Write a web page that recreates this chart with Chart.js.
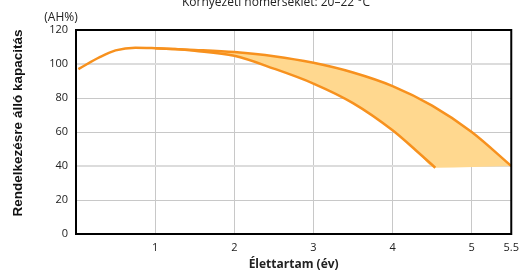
<!DOCTYPE html>
<html>
<head>
<meta charset="utf-8">
<script src="https://cdn.jsdelivr.net/npm/chart.js@4/dist/chart.umd.min.js"></script>
<style>
  html, body { margin: 0; padding: 0; background: #fff; }
  #wrap { position: relative; width: 526px; height: 276px; overflow: hidden; }
</style>
</head>
<body>
<div id="wrap"><canvas id="chart" width="526" height="276"></canvas></div>
<script>
// Felső görbe (x: év, y: AH%)
const felsoX = [0.03, 0.3, 0.5, 0.75, 1.0, 1.5, 2.0, 2.5, 3.0, 3.5, 4.0, 4.5, 5.0, 5.5];
const felsoY = [97, 104, 108, 109.6, 109.3, 108.3, 107, 104.6, 100.7, 95, 87, 75.5, 60, 40];

// Alsó görbe
const alsoX = [1.0, 1.25, 1.5, 2.0, 2.5, 3.0, 3.5, 4.0, 4.3, 4.54];
const alsoY = [109.3, 108.8, 107.8, 104.8, 97.3, 88.5, 77, 61, 49, 39];

// a kitöltés alsó határa 40%-on folytatódik
const hatarY = 40;

const xTicks = [1, 2, 3, 4, 5, 5.5];
const yTicks = [0, 20, 40, 60, 80, 100, 120];

const cim = 'Környezeti hőmérséklet: 20–22 °C';
const egyseg = '(AH%)';
const yCim = 'Rendelkezésre álló kapacitás';

const narancs = '#F7911E';
const kitoltes = '#FFD88F';

function pontok(xs, ys) {
    return xs.map((x, i) => ({ x: x, y: ys[i] }));
}

const hatar = pontok(alsoX, alsoY);
hatar.push({ x: felsoX[felsoX.length - 1], y: hatarY });

// Keret és feliratok
const keretPlugin = {
    id: 'keret',
    afterDraw(chart) {
        const ctx = chart.ctx;
        const a = chart.chartArea;
        ctx.save();
        ctx.strokeStyle = '#000';
        ctx.lineWidth = 2;
        ctx.strokeRect(a.left, a.top, a.right - a.left, a.bottom - a.top);
        ctx.fillStyle = '#222';
        ctx.font = '12px "Open Sans"';
        ctx.textAlign = 'center';
        ctx.textBaseline = 'alphabetic';
        ctx.fillText(cim, 276, 6);
        ctx.fillText(egyseg, 61, 21);
        // függőleges tengelycím
        ctx.translate(18, 123);
        ctx.rotate(-Math.PI / 2);
        ctx.fillStyle = '#111';
        ctx.font = 'bold 13.5px "Liberation Sans"';
        ctx.textBaseline = 'middle';
        ctx.fillText(yCim, 0, 0);
        ctx.restore();
    }
};

new Chart(document.getElementById('chart'), {
    type: 'line',
    data: {
        datasets: [
            {
                // láthatatlan alsó határ a kitöltéshez
                data: hatar,
                borderWidth: 0,
                borderColor: 'rgba(0,0,0,0)',
                pointRadius: 0,
                fill: false,
                cubicInterpolationMode: 'monotone'
            },
            {
                data: pontok(felsoX, felsoY),
                borderColor: narancs,
                borderWidth: 2.5,
                pointRadius: 0,
                backgroundColor: kitoltes,
                fill: 0,
                cubicInterpolationMode: 'monotone'
            },
            {
                data: pontok(alsoX, alsoY),
                borderColor: narancs,
                borderWidth: 2.5,
                pointRadius: 0,
                fill: false,
                cubicInterpolationMode: 'monotone'
            }
        ]
    },
    options: {
        responsive: false,
        animation: false,
        layout: { padding: { top: 30, right: 10, left: 0, bottom: 0 } },
        plugins: {
            legend: { display: false },
            tooltip: { enabled: false },
            filler: { drawTime: 'beforeDatasetsDraw' }
        },
        scales: {
            x: {
                type: 'linear',
                min: 0,
                max: 5.5,
                afterBuildTicks: function(scale) {
                    scale.ticks = xTicks.map(v => ({ value: v }));
                },
                afterFit: function(scale) { scale.height = 42; },
                ticks: {
                    color: '#222',
                    font: { family: 'Open Sans', size: 11 },
                    padding: 7,
                    maxRotation: 0,
                    autoSkip: false,
                    callback: v => String(v)
                },
                grid: { color: '#c8c8c8', lineWidth: 1, drawTicks: false },
                border: { color: '#000', width: 2 },
                title: {
                    display: true,
                    text: 'Élettartam (év)',
                    color: '#222',
                    font: { family: 'Open Sans', size: 12, weight: 'bold' },
                    padding: { top: 1, bottom: 4 }
                }
            },
            y: {
                min: 0,
                max: 120,
                afterBuildTicks: function(scale) {
                    scale.ticks = yTicks.map(v => ({ value: v }));
                },
                afterFit: function(scale) { scale.width = 76; },
                ticks: {
                    color: '#222',
                    font: { family: 'Open Sans', size: 11 },
                    padding: 8
                },
                grid: {
                    drawTicks: false,
                    color: ctx => (ctx.tick && (ctx.tick.value === 40 || ctx.tick.value === 100)) ? '#dcdcdc' : '#c8c8c8',
                    lineWidth: ctx => (ctx.tick && (ctx.tick.value === 40 || ctx.tick.value === 100)) ? 2 : 1
                },
                border: { color: '#000', width: 2 }
            }
        }
    },
    plugins: [keretPlugin]
});
</script>
</body>
</html>
